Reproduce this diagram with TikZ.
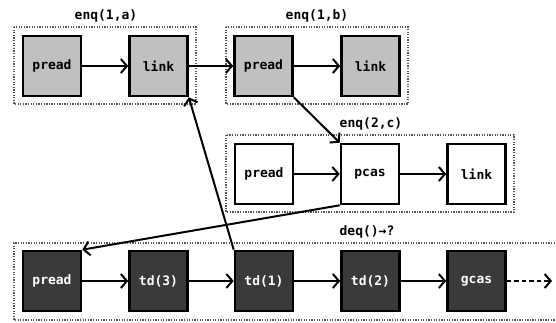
\documentclass[tikz,border=0pt]{standalone}
\usepackage{fontspec}
\setmonofont{DejaVu Sans Mono}
\usetikzlibrary{arrows.meta}
\definecolor{lightbox}{HTML}{C0C0C0}
\definecolor{darkbox}{HTML}{3A3A3A}
\definecolor{framegray}{HTML}{555555}
\tikzset{
  cell/.style={draw=black, line width=2.6pt, minimum width=58pt, minimum height=60pt,
    inner sep=0pt, font=\ttfamily\bfseries\fontsize{13}{15}\selectfont},
  litecell/.style={cell, fill=lightbox},
  plaincell/.style={cell, fill=white},
  darkcell/.style={cell, fill=darkbox, text=white},
  frame/.style={draw=framegray, line width=1.4pt, dash pattern=on 1.3pt off 1.3pt},
  grouplabel/.style={font=\ttfamily\bfseries\fontsize{13}{15}\selectfont, inner sep=0pt},
  link/.style={line width=2pt, -{Straight Barb[length=6pt,width=14pt,line width=2pt]}},
}
\begin{document}
\begin{tikzpicture}[x=1pt, y=-1pt]
\useasboundingbox (0,0) rectangle (556,323);

% group frames
\draw[frame] (14,27) rectangle (196,104);
\draw[frame] (226,27) rectangle (408,104);
\draw[frame] (226,135) rectangle (514,212);
\draw[frame] (560,243) -- (14,243) -- (14,320) -- (560,320);

% group labels
\node[grouplabel] (lab1) at (106,16) {enq(1,a)};
\node[grouplabel] (lab2) at (317,16) {enq(1,b)};
\node[grouplabel] (lab3) at (371,124) {enq(2,c)};
\node[grouplabel] (lab4) at (367,232) {deq()→?};

% enq(1,a)
\node[litecell] (pa) at (52,66) {pread};
\node[litecell] (la) at (158.5,66) {link};
% enq(1,b)
\node[litecell] (pb) at (263.5,66) {pread};
\node[litecell] (lb) at (370.5,66) {link};
% enq(2,c)
\node[plaincell] (pc) at (264,174) {pread};
\node[plaincell] (cc) at (370,174) {pcas};
\node[plaincell] (lc) at (476.5,174) {link};
% deq
\node[darkcell] (pd) at (52,281) {pread};
\node[darkcell] (t3) at (158.5,281) {td(3)};
\node[darkcell] (t1) at (264,281) {td(1)};
\node[darkcell] (t2) at (370.5,281) {td(2)};
\node[darkcell] (gc) at (476.5,281) {gcas};
\coordinate (tail) at (552,281);

% connectors
\draw[link] (pa) -- (la);
\draw[link] (la) -- (pb);
\draw[link] (pb) -- (lb);
\draw[link] (pc) -- (cc);
\draw[link] (cc) -- (lc);
\draw[link] (pd) -- (t3);
\draw[link] (t3) -- (t1);
\draw[link] (t1) -- (t2);
\draw[link] (t2) -- (gc);
\draw[link, dash pattern=on 4.5pt off 3pt] (gc) -- (tail);
\draw[link] (pb.south east) -- (cc.north west);
\draw[link] (cc.south west) -- (pd.north east);
\draw[link] (t1.north west) -- (la.south east);
\end{tikzpicture}
\end{document}
